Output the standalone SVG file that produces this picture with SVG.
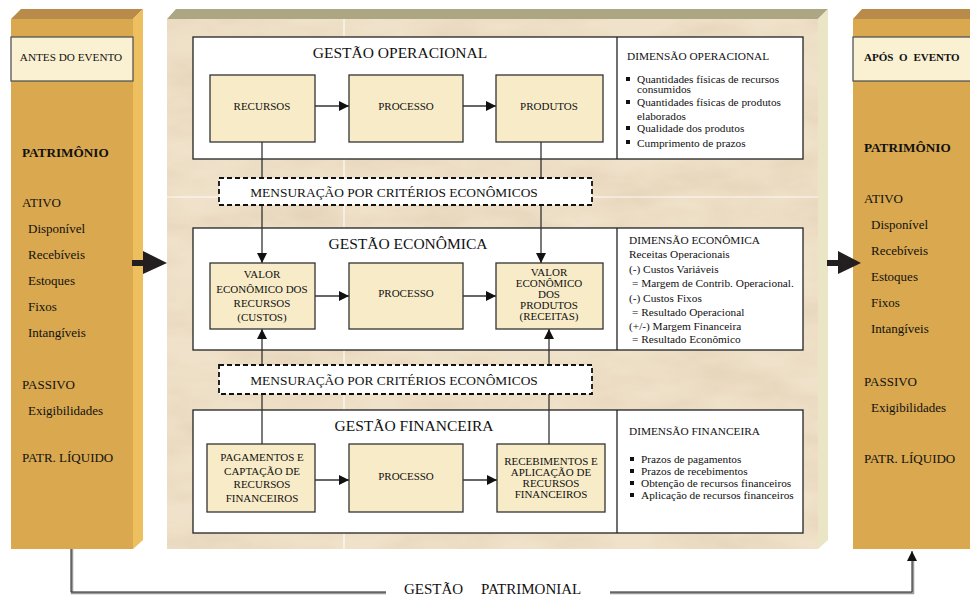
<svg xmlns="http://www.w3.org/2000/svg" width="970" height="596" viewBox="0 0 970 596" font-family="'Liberation Serif', 'DejaVu Serif', serif">
<style>
text{font-family:'Liberation Serif','DejaVu Serif',serif;fill:#111}
.box{fill:#F8ECC8;stroke:#333;stroke-width:1.3}
.panel{fill:#fff;stroke:#222;stroke-width:1.3}
.dash{fill:#fff;stroke:#111;stroke-width:1.8;stroke-dasharray:5,3}
.bt{font-size:11px;text-anchor:middle}
.tt{font-size:15.5px;text-anchor:middle}
.dm{font-size:11.3px}
.pt{font-size:13px}
.pb{font-size:13.2px;font-weight:bold}
.ln{stroke:#333;stroke-width:1.3;fill:none}
.big{fill:#231F20}
.bul{fill:#111}
</style>
<defs>
<marker id="ah" markerUnits="userSpaceOnUse" markerWidth="11" markerHeight="11" refX="10" refY="5" orient="auto">
<path d="M0,0 L10,5 L0,10 z" fill="#111"/>
</marker>
<filter id="marble" x="0" y="0" width="100%" height="100%">
<feTurbulence type="fractalNoise" baseFrequency="0.012 0.03" numOctaves="4" seed="7" result="n"/>
<feColorMatrix in="n" type="matrix" values="0 0 0 0 0.76  0 0 0 0 0.63  0 0 0 0 0.46  0 0 0 1.3 -0.4" result="c"/>
<feComposite in="c" in2="SourceGraphic" operator="in"/>
</filter>
</defs>

<g id="left-pillar">
<polygon points="11,19 21,9 143,9 133,19" fill="#B88B4A"/>
<polygon points="133,19 143,9 143,540 133,549" fill="#EDBF5E"/>
<rect x="11" y="19" width="122" height="530" fill="#D9A84F"/>
<rect x="11" y="37" width="122" height="44" fill="#FAF0D2" stroke="#555" stroke-width="1.3"/>
<text x="71" y="61" font-size="11.2" text-anchor="middle">ANTES DO EVENTO</text>
<text class="pb" x="22" y="157">PATRIMÔNIO</text>
<text class="pt" x="22" y="207">ATIVO</text>
<text class="pt" x="28" y="233">Disponível</text>
<text class="pt" x="28" y="259">Recebíveis</text>
<text class="pt" x="28" y="285">Estoques</text>
<text class="pt" x="28" y="311">Fixos</text>
<text class="pt" x="28" y="337">Intangíveis</text>
<text class="pt" x="22" y="389">PASSIVO</text>
<text class="pt" x="28" y="415">Exigibilidades</text>
<text class="pt" x="22" y="462">PATR.  LÍQUIDO</text>
</g>

<g id="right-pillar">
<polygon points="853,19 862,9 970,9 970,19" fill="#B88B4A"/>
<rect x="853" y="19" width="117" height="530" fill="#D9A84F"/>
<rect x="853" y="37" width="120" height="44" fill="#FAF0D2" stroke="#555" stroke-width="1.3"/>
<text x="864" y="61" font-size="11" font-weight="bold" word-spacing="3">APÓS O EVENTO</text>
<text class="pb" x="864" y="152">PATRIMÔNIO</text>
<text class="pt" x="864" y="203">ATIVO</text>
<text class="pt" x="871" y="229">Disponível</text>
<text class="pt" x="871" y="255">Recebíveis</text>
<text class="pt" x="871" y="281">Estoques</text>
<text class="pt" x="871" y="307">Fixos</text>
<text class="pt" x="871" y="333">Intangíveis</text>
<text class="pt" x="864" y="386">PASSIVO</text>
<text class="pt" x="871" y="412">Exigibilidades</text>
<text class="pt" x="864" y="463">PATR.  LÍQUIDO</text>
</g>

<g id="center-panel">
<polygon points="167,19 176,9 828,9 818,19" fill="#ADA682"/>
<polygon points="818,19 828,9 828,540 818,549" fill="#E9E5C5"/>
<rect x="167" y="19" width="651" height="530" fill="#F0E2CA"/>
<rect x="167" y="19" width="651" height="530" fill="#fff" filter="url(#marble)"/>
<line x1="344" y1="19" x2="344" y2="549" stroke="#fff" stroke-width="1.2" opacity="0.85"/>
<line x1="167" y1="197" x2="818" y2="197" stroke="#fff" stroke-width="1.2" opacity="0.85"/>
</g>

<g id="gestao-operacional">
<rect class="panel" x="193" y="37" width="610" height="122"/>
<line x1="617" y1="37" x2="617" y2="159" stroke="#222" stroke-width="1.3"/>
<text class="tt" x="400" y="58">GESTÃO OPERACIONAL</text>
</g>
<g id="dim-operacional">
<text class="dm" x="627" y="60">DIMENSÃO OPERACIONAL</text>
<rect class="bul" x="626" y="77" width="4" height="4"/>
<text class="dm" x="637" y="82.5">Quantidades físicas de  recursos</text>
<text class="dm" x="637" y="93">consumidos</text>
<rect class="bul" x="626" y="100" width="4" height="4"/>
<text class="dm" x="637" y="106">Quantidades físicas de produtos</text>
<text class="dm" x="637" y="120">elaborados</text>
<rect class="bul" x="626" y="126" width="4" height="4"/>
<text class="dm" x="637" y="132">Qualidade dos  produtos</text>
<rect class="bul" x="626" y="140" width="4" height="4"/>
<text class="dm" x="637" y="146.5">Cumprimento de prazos</text>
</g>

<g id="gestao-economica">
<rect class="panel" x="193" y="228" width="610" height="122"/>
<line x1="617" y1="228" x2="617" y2="350" stroke="#222" stroke-width="1.3"/>
<text class="tt" x="408" y="249">GESTÃO ECONÔMICA</text>
</g>
<g id="dim-economica">
<text class="dm" x="629" y="244">DIMENSÃO ECONÔMICA</text>
<text class="dm" x="629" y="258">Receitas Operacionais</text>
<text class="dm" x="629" y="273">(-) Custos Variáveis</text>
<text class="dm" x="632" y="287">=  Margem de  Contrib. Operacional.</text>
<text class="dm" x="629" y="302">(-) Custos Fixos</text>
<text class="dm" x="632" y="316">= Resultado Operacional</text>
<text class="dm" x="629" y="330">(+/-)  Margem  Financeira</text>
<text class="dm" x="632" y="343">=   Resultado Econômico</text>
</g>

<g id="gestao-financeira">
<rect class="panel" x="193" y="410" width="610" height="123"/>
<line x1="617" y1="410" x2="617" y2="533" stroke="#222" stroke-width="1.3"/>
<text class="tt" x="414" y="431">GESTÃO FINANCEIRA</text>
</g>
<g id="dim-financeira">
<text class="dm" x="629" y="435">DIMENSÃO FINANCEIRA</text>
<rect class="bul" x="630" y="457" width="4" height="4"/>
<text class="dm" x="641" y="463">Prazos de  pagamentos</text>
<rect class="bul" x="630" y="469" width="4" height="4"/>
<text class="dm" x="641" y="475">Prazos de recebimentos</text>
<rect class="bul" x="630" y="481" width="4" height="4"/>
<text class="dm" x="641" y="487">Obtenção de recursos financeiros</text>
<rect class="bul" x="630" y="493" width="4" height="4"/>
<text class="dm" x="641" y="499">Aplicação de recursos financeiros</text>
</g>

<g id="connectors">
<line class="ln" x1="262" y1="142" x2="262" y2="263" marker-end="url(#ah)"/>
<line class="ln" x1="541" y1="142" x2="541" y2="263" marker-end="url(#ah)"/>
<line class="ln" x1="262" y1="444" x2="262" y2="329" marker-end="url(#ah)"/>
<line class="ln" x1="549" y1="444" x2="549" y2="329" marker-end="url(#ah)"/>
<line class="ln" x1="315" y1="106" x2="349" y2="106" marker-end="url(#ah)"/>
<line class="ln" x1="463" y1="106" x2="496" y2="106" marker-end="url(#ah)"/>
<line class="ln" x1="315" y1="296" x2="349" y2="296" marker-end="url(#ah)"/>
<line class="ln" x1="463" y1="296" x2="496" y2="296" marker-end="url(#ah)"/>
<line class="ln" x1="315" y1="480" x2="349" y2="480" marker-end="url(#ah)"/>
<line class="ln" x1="463" y1="480" x2="497" y2="480" marker-end="url(#ah)"/>
<polygon class="big" points="132,260 143,260 143,251 167,263 143,274 143,266 132,266"/>
<polygon class="big" points="827,260 838,260 838,251 861,263 838,274 838,266 827,266"/>
<polyline points="72,549 72,593 386,593" fill="none" stroke="#999" stroke-width="2.5"/>
<polyline points="71,549 71,592 386,592" fill="none" stroke="#333" stroke-width="1"/>
<polyline points="610,593 913,593 913,560" fill="none" stroke="#999" stroke-width="2.5"/>
<polyline points="610,592 912,592 912,551" fill="none" stroke="#333" stroke-width="1" marker-end="url(#ah)"/>
</g>

<g id="mensuracao-1">
<rect class="dash" x="219" y="178" width="373" height="27"/>
<text x="394" y="197" font-size="13.4" text-anchor="middle">MENSURAÇÃO POR CRITÉRIOS ECONÔMICOS</text>
</g>
<g id="mensuracao-2">
<rect class="dash" x="219" y="365" width="373" height="29"/>
<text x="394" y="385" font-size="13.4" text-anchor="middle">MENSURAÇÃO POR CRITÉRIOS ECONÔMICOS</text>
</g>

<g id="recursos">
<rect class="box" x="210" y="75" width="105" height="67"/>
<text class="bt" x="262" y="110">RECURSOS</text>
</g>
<g id="processo-op">
<rect class="box" x="349" y="75" width="114" height="67"/>
<text class="bt" x="406" y="110">PROCESSO</text>
</g>
<g id="produtos">
<rect class="box" x="496" y="75" width="107" height="67"/>
<text class="bt" x="549" y="110">PRODUTOS</text>
</g>

<g id="valor-recursos">
<rect class="box" x="210" y="263" width="105" height="66"/>
<text class="bt" x="262" y="278">VALOR</text>
<text class="bt" x="262" y="292.5">ECONÔMICO DOS</text>
<text class="bt" x="262" y="307">RECURSOS</text>
<text class="bt" x="262" y="321">(CUSTOS)</text>
</g>
<g id="processo-ec">
<rect class="box" x="349" y="263" width="114" height="66"/>
<text class="bt" x="406" y="297">PROCESSO</text>
</g>
<g id="valor-produtos">
<rect class="box" x="496" y="263" width="107" height="66"/>
<text class="bt" x="549" y="276">VALOR</text>
<text class="bt" x="549" y="287">ECONÔMICO</text>
<text class="bt" x="549" y="298">DOS</text>
<text class="bt" x="549" y="309">PRODUTOS</text>
<text class="bt" x="549" y="320">(RECEITAS)</text>
</g>

<g id="pagamentos">
<rect class="box" x="207" y="444" width="108" height="68"/>
<text class="bt" x="262" y="461">PAGAMENTOS E</text>
<text class="bt" x="262" y="474.5">CAPTAÇÃO DE</text>
<text class="bt" x="262" y="488">RECURSOS</text>
<text class="bt" x="262" y="502">FINANCEIROS</text>
</g>
<g id="processo-fin">
<rect class="box" x="349" y="444" width="114" height="68"/>
<text class="bt" x="406" y="480">PROCESSO</text>
</g>
<g id="recebimentos">
<rect class="box" x="497" y="444" width="108" height="68"/>
<text class="bt" x="551" y="465">RECEBIMENTOS E</text>
<text class="bt" x="551" y="476">APLICAÇÃO DE</text>
<text class="bt" x="551" y="487">RECURSOS</text>
<text class="bt" x="551" y="498">FINANCEIROS</text>
</g>

<g id="gestao-patrimonial">
<text x="404" y="594" font-size="15" word-spacing="14">GESTÃO PATRIMONIAL</text>
</g>
</svg>
